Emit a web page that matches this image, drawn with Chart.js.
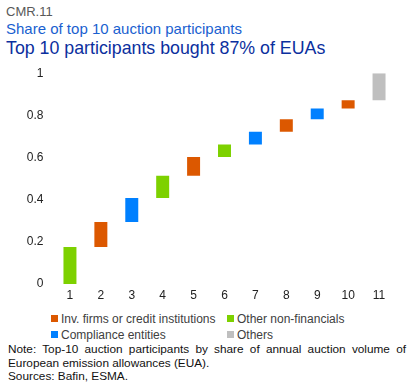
<!DOCTYPE html>
<html>
<head>
<meta charset="utf-8">
<script src="https://cdn.jsdelivr.net/npm/chart.js@4.4.1/dist/chart.umd.min.js"></script>
<style>
  body { margin:0; width:416px; height:385px; background:#fff; font-family:"Liberation Sans", Arial, sans-serif; position:relative; overflow:hidden; }
  #t0 { position:absolute; left:6px; top:4px; font-size:13px; color:#595959; }
  #t1 { position:absolute; left:6px; top:20px; font-size:15px; color:#1a5fd0; }
  #t2 { position:absolute; left:6px; top:38px; font-size:17.8px; color:#0b2f9e; }
  #wrap { position:absolute; left:0; top:55px; width:416px; height:251px; }
  #legend { position:absolute; left:51px; top:311px; width:360px; display:grid; grid-template-columns:176px 180px; row-gap:1px; font-size:12px; color:#404040; }
  #legend div { display:flex; align-items:center; height:15px; }
  #legend span { display:inline-block; width:7px; height:7px; margin-right:3px; }
  #note { position:absolute; left:8px; top:343px; width:398px; font-size:11.8px; line-height:13.5px; color:#111; text-align:justify; }
</style>
</head>
<body>
<div id="t0">CMR.11</div>
<div id="t1">Share of top 10 auction participants</div>
<div id="t2">Top 10 participants bought 87% of EUAs</div>
<div id="wrap"><canvas id="chart"></canvas></div>
<div id="legend"></div>
<div id="note">Note: Top-10 auction participants by share of annual auction volume of European emission allowances (EUA).<br>Sources: Bafin, ESMA.</div>
<script>
// participants 1..10 plus "others"
const categories = ['1','2','3','4','5','6','7','8','9','10','11'];
const shares = [0.175, 0.119, 0.114, 0.105, 0.090, 0.059, 0.060, 0.059, 0.052, 0.039, 0.128];
const types = ['non', 'inv', 'comp', 'non', 'inv', 'non', 'comp', 'inv', 'comp', 'inv', 'oth'];
const yTicks = [0, 0.2, 0.4, 0.6, 0.8, 1];

const groups = [
  { key:'inv', label:'Inv. firms or credit institutions', color:'#dc5800' },
  { key:'non', label:'Other non-financials', color:'#7dd100' },
  { key:'comp', label:'Compliance entities', color:'#0080ff' },
  { key:'oth', label:'Others', color:'#bfbfbf' }
];

// floating bars: [start, end] cumulative
let run = 0;
const ranges = shares.map(s => { const r = [run, Math.min(1, run + s)]; run += s; return r; });

const datasets = groups.map(g => ({
  label: g.label,
  data: ranges.map((r, i) => types[i] === g.key ? r : null),
  backgroundColor: g.color,
  grouped: false,
  barPercentage: 0.42,
  categoryPercentage: 1
}));

new Chart(document.getElementById('chart'), {
  type: 'bar',
  data: { labels: categories, datasets: datasets },
  options: {
    responsive: true,
    maintainAspectRatio: false,
    animation: false,
    layout: { padding: { top: 5, right: 21.5, left: 0, bottom: 0 } },
    plugins: { legend: { display: false }, tooltip: { enabled: false } },
    scales: {
      x: {
        grid: { display: false, drawTicks: false },
        border: { display: false },
        ticks: { color: '#222', font: { size: 12, family: 'Liberation Sans' }, padding: 4 },
        afterFit: s => { s.height = 22; }
      },
      y: {
        min: 0, max: 1,
        afterBuildTicks: s => { s.ticks = yTicks.map(v => ({ value: v })); },
        grid: { display: false, drawTicks: false },
        border: { display: false },
        ticks: { color: '#222', font: { size: 12, family: 'Liberation Sans' }, padding: 11,
                 callback: v => String(Math.round(v * 10) / 10) },
        afterFit: s => { s.width = 54.5; }
      }
    }
  }
});

// legend
const leg = document.getElementById('legend');
groups.forEach(g => {
  const d = document.createElement('div');
  d.innerHTML = '<span style="background:' + g.color + '"></span>' + g.label;
  leg.appendChild(d);
});
</script>
</body>
</html>
